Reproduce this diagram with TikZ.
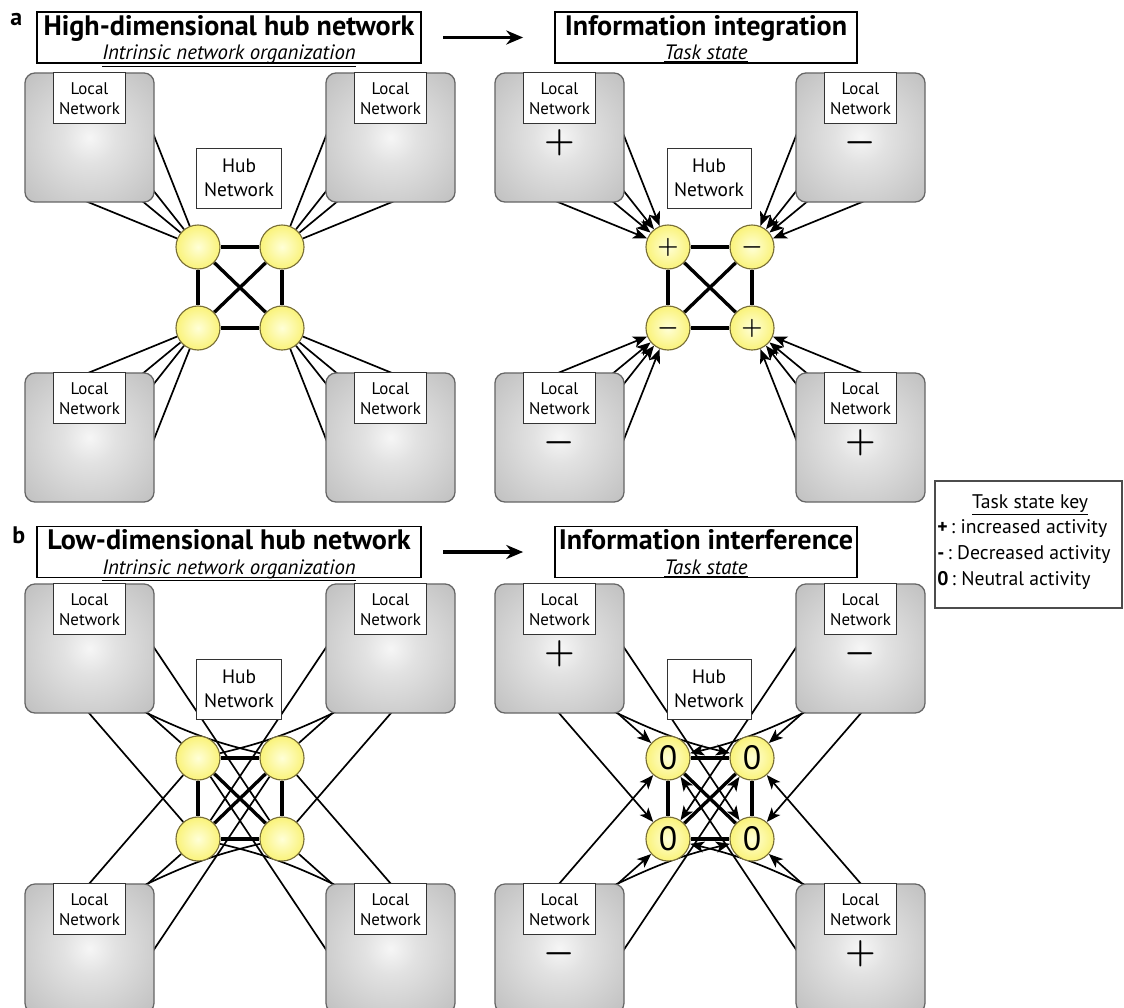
\documentclass[tikz,border=0pt]{standalone}
\usepackage{fontspec}
\setmainfont{PT Sans}
\usepackage{tikz}
\usetikzlibrary{arrows.meta,backgrounds,positioning}

\definecolor{boxin}{RGB}{246,246,246}
\definecolor{boxmid}{RGB}{226,226,226}
\definecolor{boxout}{RGB}{172,172,172}
\definecolor{boxcorner}{RGB}{150,150,150}
\definecolor{hubin}{RGB}{255,255,215}
\definecolor{hubmid}{RGB}{250,243,125}
\definecolor{hubout}{RGB}{236,222,62}
\definecolor{hubline}{RGB}{120,110,55}
\pgfdeclareradialshading{localshade}{\pgfpoint{0bp}{0bp}}{color(0bp)=(boxin); color(10bp)=(boxmid); color(50bp)=(boxout); color(71bp)=(boxcorner)}
\pgfdeclareradialshading{hubshade}{\pgfpoint{0bp}{0bp}}{color(0bp)=(hubin); color(24bp)=(hubmid); color(50bp)=(hubout)}

\begin{document}
\begin{tikzpicture}[x=0.025cm,y=-0.025cm,
  localnet/.style={rectangle,rounded corners=0.25cm,minimum width=3.225cm,minimum height=3.225cm,draw=black!60,line width=0.9pt,shade,shading=localshade},
  lbl/.style={rectangle,draw=black!80,fill=white,line width=0.7pt,minimum width=1.8cm,minimum height=1.275cm,align=center,inner sep=0pt,font=\fontsize{12}{14}\selectfont},
  hublbl/.style={lbl,minimum width=2.1cm,minimum height=1.5cm,font=\fontsize{13.8}{17}\selectfont},
  hub/.style={circle,minimum size=1.1cm,inner sep=0pt,draw=hubline,line width=0.8pt,shade,shading=hubshade},
  conn/.style={line width=1.2pt,shorten <=-4pt},
  arr/.style={conn,-{Stealth[length=10pt,width=8pt,inset=2.5pt]}},
  hubedge/.style={line width=2.4pt},
  titlebox/.style={rectangle,draw,line width=1.3pt,minimum height=1.275cm,inner sep=0pt},
  titletxt/.style={font=\bfseries\fontsize{20}{22}\selectfont,inner sep=0pt,anchor=base},
  subtxt/.style={font=\itshape\fontsize{14.8}{16}\selectfont,inner sep=0pt,anchor=base},
  signtxt/.style={font=\fontsize{24}{24}\selectfont\boldmath,inner sep=0pt,yshift=-3.5pt},
  hubsign/.style={font=\fontsize{19}{19}\selectfont\boldmath,inner sep=0pt},
  zerotxt/.style={font=\fontsize{24}{24}\selectfont,inner sep=0pt},
  bigarrow/.style={line width=2.2pt,-{Stealth[length=12pt,width=10pt]}},
  keytxt/.style={font=\fontsize{14}{15}\selectfont,inner sep=0pt,anchor=base west}]

\useasboundingbox (0,0) rectangle (1124,1007);

\foreach \p/\dx/\dy in {A/0/0,B/470/0,C/0/511,D/470/511}{
  \begin{scope}[shift={(\dx,\dy)}]
    \node[localnet] (\p tl) at (89.5,137.5) {};
    \node[localnet] (\p tr) at (390.5,137.5) {};
    \node[localnet] (\p bl) at (89.5,437.5) {};
    \node[localnet] (\p br) at (390.5,437.5) {};
    \foreach \b in {tl,tr,bl,br}
      \node[lbl,anchor=north] (\p\b l) at (\p\b.north) {Local\\Network};
    \node[hublbl] (\p hub) at (239,178) {Hub\\Network};
    \node[hub] (\p h1) at (198,247) {};
    \node[hub] (\p h2) at (282,247) {};
    \node[hub] (\p h3) at (198,328) {};
    \node[hub] (\p h4) at (282,328) {};
  \end{scope}
}

\foreach \p in {B,D}
  \foreach \b/\s in {tl/+,tr/-,bl/-,br/+}
    \node[signtxt] (\p\b s) at (\p\b) {$\s$};
\foreach \h/\s in {h1/+,h2/-,h3/-,h4/+}
  \node[hubsign] (B\h s) at (B\h) {$\s$};
\foreach \h in {h1,h2,h3,h4}
  \node[zerotxt] (D\h s) at (D\h) {0};

\begin{pgfonlayer}{background}
  \foreach \p/\st in {A/conn,B/arr}{
    \foreach \b/\h/\angs in {tl/h1/{0,-40,-50,-90},tr/h2/{180,220,230,270},bl/h3/{90,50,40,0},br/h4/{90,130,140,180}}
      \foreach \a in \angs
        \draw[\st] (\p\b.\a) -- (\p\h);
    \foreach \i/\j in {h1/h2,h3/h4,h1/h3,h2/h4,h1/h4,h2/h3}
      \draw[hubedge] (\p\i) -- (\p\j);
  }
  \foreach \p/\st in {C/conn,D/arr}{
    \foreach \b/\a/\h in {tl/0/h4,tl/-48/h1,tl/-90/h3,tr/180/h3,tr/228/h2,tr/270/h4,bl/90/h1,bl/48/h3,bl/0/h2,br/90/h2,br/132/h4,br/180/h1}
      \draw[\st] (\p\b.\a) -- (\p\h);
    \draw[\st] (\p tl.-48) to[bend right=6] (\p h2);
    \draw[\st] (\p tr.228) to[bend left=6] (\p h1);
    \draw[\st] (\p bl.48) to[bend left=6] (\p h4);
    \draw[\st] (\p br.132) to[bend right=6] (\p h3);
    \foreach \i/\j in {h1/h2,h3/h4,h1/h3,h2/h4,h1/h4,h2/h3}
      \draw[hubedge] (\p\i) -- (\p\j);
  }
\end{pgfonlayer}

\node[font=\bfseries\fontsize{17}{17}\selectfont,inner sep=0pt,anchor=base west] (la) at (10,25) {a};
\node[titlebox,minimum width=9.6cm] (atl) at (229,37.5) {};
\node[titletxt] (atlt) at (229,35) {High-dimensional hub network};
\node[subtxt] (atls) at (229,59.5) {\underline{Intrinsic network organization}};
\node[titlebox,minimum width=7.55cm] (atr) at (706,37.5) {};
\node[titletxt] (atrt) at (706,35) {Information integration};
\node[subtxt] (atrs) at (706,59.5) {\underline{Task state}};
\draw[bigarrow,shorten <=15pt,shorten >=22pt] (atl) -- (atr);

\node[font=\bfseries\fontsize{17}{17}\selectfont,inner sep=0pt,anchor=base west] (lb) at (12,543) {b};
\node[titlebox,minimum width=9.6cm] (btl) at (229,552) {};
\node[titletxt] (btlt) at (229,549.5) {Low-dimensional hub network};
\node[subtxt] (btls) at (229,574) {\underline{Intrinsic network organization}};
\node[titlebox,minimum width=7.55cm] (btr) at (706,552) {};
\node[titletxt] (btrt) at (706,549.5) {Information interference};
\node[subtxt] (btrs) at (706,574) {\underline{Task state}};
\draw[bigarrow,shorten <=15pt,shorten >=22pt] (btl) -- (btr);

\node[draw=black!70,line width=0.8pt,minimum width=4.675cm,minimum height=3.175cm,inner sep=0pt] (key) at (1028.5,544.5) {};
\node[keytxt,anchor=base] (keyh) at (1030,508) {\underline{Task state key}};
\node[keytxt] (keyp) at (937,533) {\textbf{+}\,:\ increased activity};
\node[keytxt] (keym) at (937,559) {\textbf{-}\,:\ Decreased activity};
\node[keytxt] (keyz) at (937,585) {\textbf{0}\,:\ Neutral activity};
\end{tikzpicture}
\end{document}
